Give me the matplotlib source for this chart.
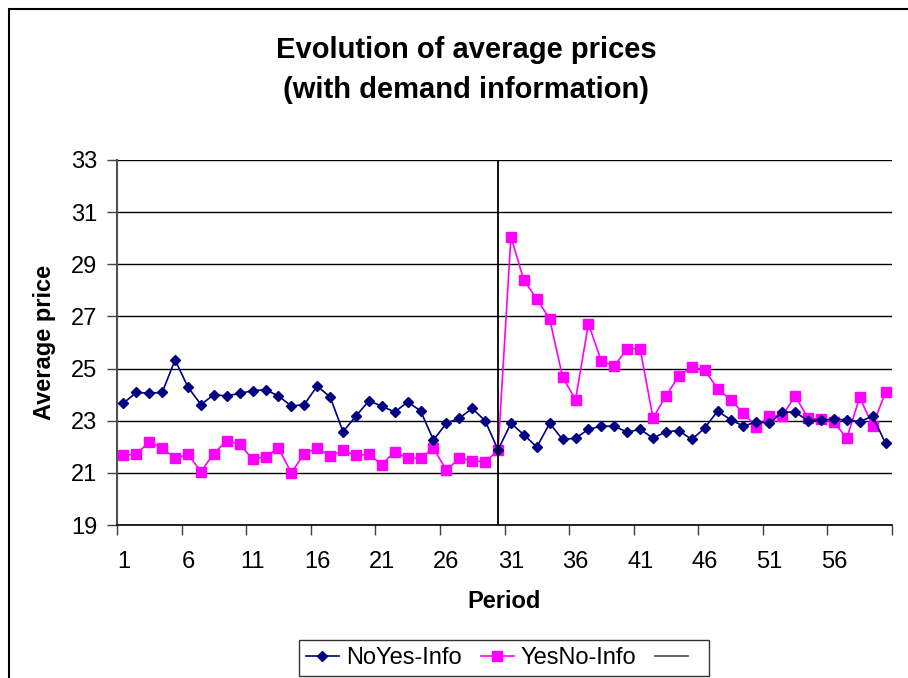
import matplotlib.pyplot as plt
import numpy as np
from matplotlib.patches import Rectangle

plt.rcParams['font.family'] = ['Liberation Sans', 'DejaVu Sans']

# periods 1..60
periods = np.arange(1, 61)

noyes_info = [23.67, 24.09, 24.05, 24.09, 25.33, 24.28, 23.62, 24.00, 23.95, 24.05,
              24.15, 24.19, 23.95, 23.56, 23.62, 24.33, 23.91, 22.58, 23.18, 23.76,
              23.56, 23.33, 23.72, 23.38, 22.26, 22.90, 23.10, 23.47, 23.00, 21.88,
              22.90, 22.46, 21.99, 22.90, 22.28, 22.33, 22.67, 22.79, 22.79, 22.56,
              22.67, 22.33, 22.58, 22.62, 22.28, 22.72, 23.37, 23.04, 22.79, 22.96,
              22.90, 23.33, 23.33, 23.00, 23.04, 23.05, 23.04, 22.96, 23.18, 22.13]

yesno_info = [21.67, 21.72, 22.19, 21.95, 21.56, 21.71, 21.05, 21.74, 22.24, 22.09,
              21.53, 21.62, 21.95, 21.00, 21.74, 21.95, 21.65, 21.86, 21.67, 21.71,
              21.32, 21.81, 21.56, 21.56, 21.95, 21.10, 21.56, 21.47, 21.42, 21.86,
              30.06, 28.38, 27.68, 26.90, 24.67, 23.81, 26.72, 25.28, 25.10, 25.76,
              25.76, 23.10, 23.95, 24.72, 25.06, 24.94, 24.23, 23.81, 23.29, 22.77,
              23.18, 23.18, 23.95, 23.10, 23.05, 22.95, 22.33, 23.90, 22.81, 24.09]

# third series: treatment switch marker
switch_x = [30, 30, 60]
switch_y = [19, 33, 33]

x_labels = [1, 6, 11, 16, 21, 26, 31, 36, 41, 46, 51, 56]
y_ticks = [19, 21, 23, 25, 27, 29, 31, 33]

fig = plt.figure(figsize=(9.08, 6.78), dpi=100)
ax = fig.add_axes([117/908, 1 - 525/678, (892 - 117)/908, (525 - 160)/678])

# outer chart frame (cut off at right and bottom)
fig.patches.append(Rectangle((9/908, -0.2), 1.3, 1.2 - 8.5/678, transform=fig.transFigure,
                             fill=False, edgecolor='black', linewidth=1.5))

ax.plot(periods, noyes_info, color='#000080', marker='D', markersize=5.5, linewidth=1.2,
        label='NoYes-Info', zorder=4)
ax.plot(periods, yesno_info, color='#FF00FF', marker='s', markersize=6.5, linewidth=1.2,
        label='YesNo-Info', zorder=3)
ax.plot(switch_x, switch_y, color='black', linewidth=1.3, label=' ', zorder=5)

ax.set_xlim(0.5, 60.5)
ax.set_ylim(19, 33)
ax.set_yticks(y_ticks)
ax.yaxis.grid(True, color='black', linewidth=1.0)
ax.set_axisbelow(True)

ax.set_xticks(np.arange(0.5, 61, 5))
ax.set_xticklabels([])
ax.set_xticks(x_labels, minor=True)
ax.set_xticklabels([str(v) for v in x_labels], minor=True, fontsize=17)
ax.tick_params(axis='x', which='minor', length=0, pad=19)
ax.tick_params(axis='x', which='major', length=7, width=1, color='#404040', direction='out')
ax.tick_params(axis='y', length=7, width=1, color='#404040', labelsize=17, pad=7)

for side in ['top', 'right']:
    ax.spines[side].set_visible(False)
ax.spines['left'].set_color('#505050')
ax.spines['left'].set_linewidth(1.5)
ax.spines['bottom'].set_color('black')
ax.spines['bottom'].set_linewidth(1.2)

fig.text(466/908, 1 - 70/678, 'Evolution of average prices\n(with demand information)',
         ha='center', va='center', fontsize=21, fontweight='bold', linespacing=1.5)
ax.set_xlabel('Period', fontsize=17, fontweight='bold', labelpad=12)
ax.set_ylabel('Average price', fontsize=17, fontweight='bold', labelpad=11)

leg = ax.legend(loc='upper center', bbox_to_anchor=(504/908, 1 - 640/678), bbox_transform=fig.transFigure,
                ncol=3, fontsize=17, frameon=True, fancybox=False, edgecolor='black',
                handlelength=1.4, handletextpad=0.3, columnspacing=0.8, borderpad=0.3,
                borderaxespad=0)
leg.get_frame().set_linewidth(1.0)
leg.get_lines()[2].set_color('#555555')

fig.savefig('out.png', dpi=100)
